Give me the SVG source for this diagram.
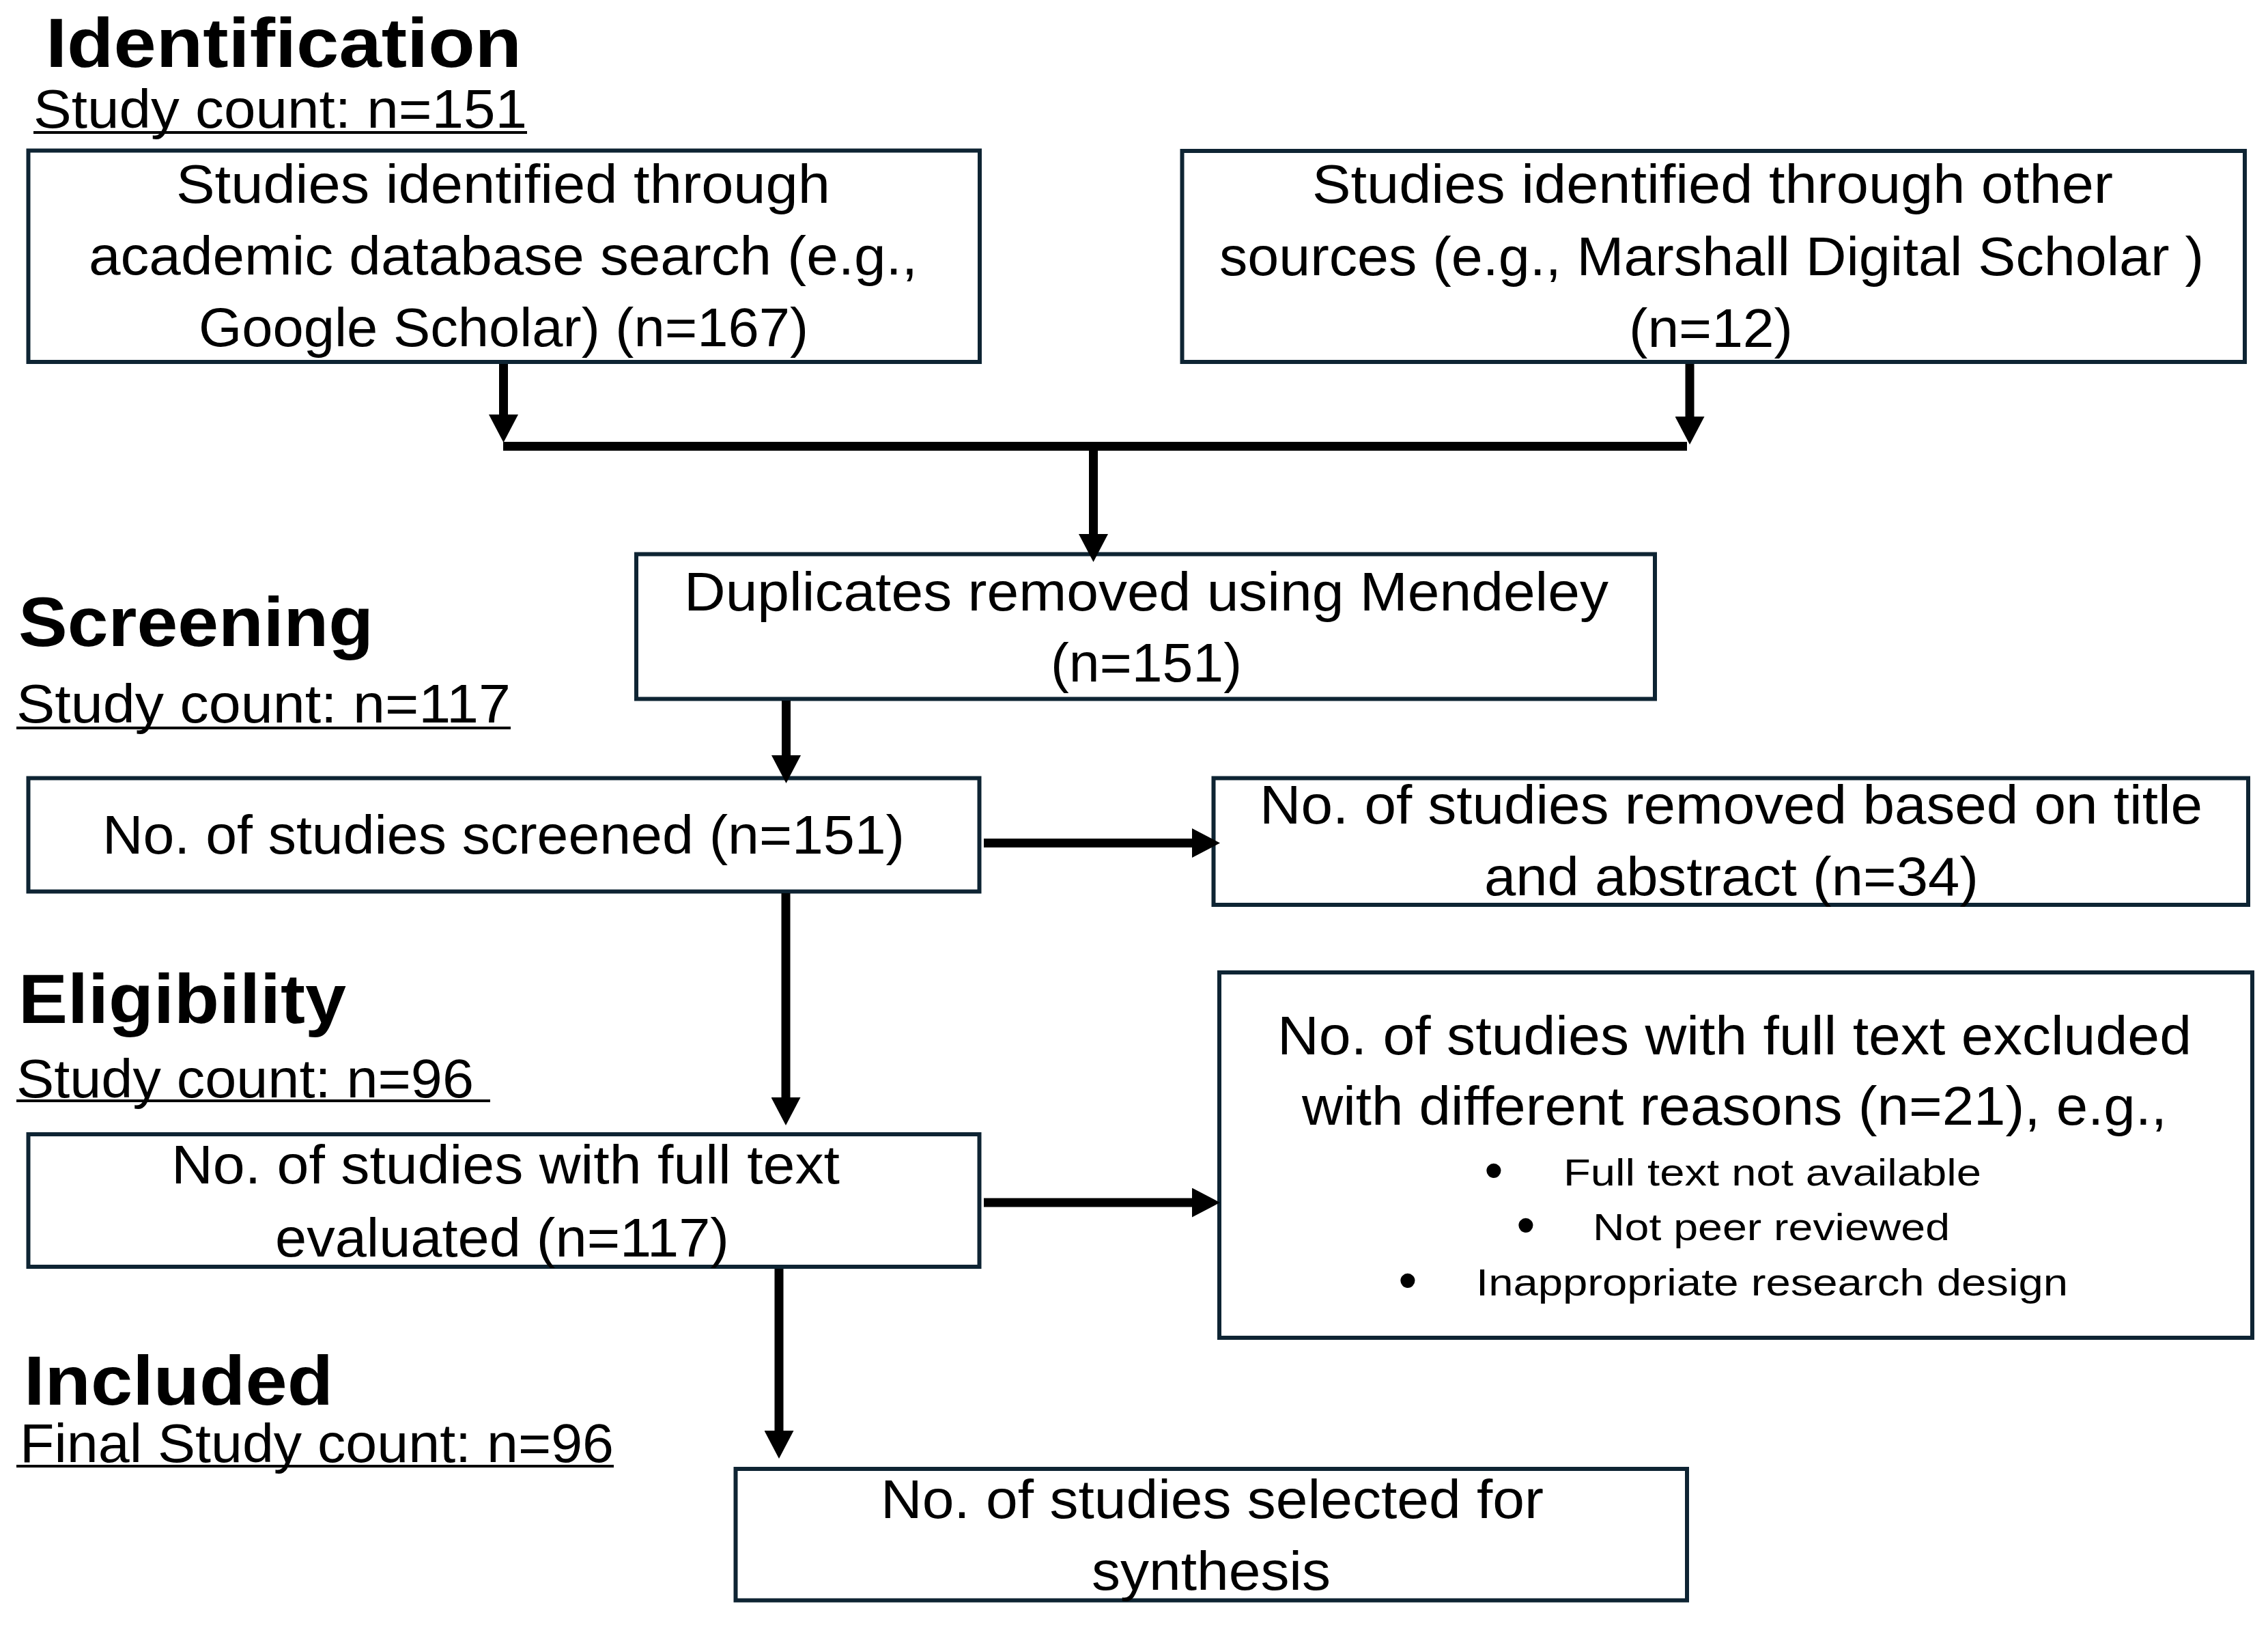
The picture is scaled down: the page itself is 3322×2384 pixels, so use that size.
<svg xmlns="http://www.w3.org/2000/svg" width="3322" height="2384" viewBox="0 0 3322 2384">
<style>
.box{fill:#ffffff;stroke:#0e2433;stroke-width:6}
.t{font-family:"Liberation Sans",Arial,sans-serif;font-size:80px;fill:#000000}
.b{font-family:"Liberation Sans",Arial,sans-serif;font-size:55px;fill:#000000}
.dot{font-family:"Liberation Sans",Arial,sans-serif;font-size:78px;fill:#000000}
.h{font-family:"Liberation Sans",Arial,sans-serif;font-size:102px;font-weight:bold;fill:#000000}
.ul{stroke:#000000;stroke-width:4}
.c{stroke:#000000;stroke-width:13;fill:none}
</style>
<defs>
<marker id="ah" viewBox="0 0 41 43" refX="1" refY="21.5" markerWidth="41" markerHeight="43" markerUnits="userSpaceOnUse" orient="auto">
<path d="M0,0 L41,21.5 L0,43 z" fill="#000000"/>
</marker>
</defs>
<rect width="3322" height="2384" fill="#ffffff"/>

<g id="labels">
<text class="h" x="67" y="98" textLength="697" lengthAdjust="spacingAndGlyphs">Identification</text>
<text class="t" x="49" y="187" textLength="723" lengthAdjust="spacingAndGlyphs">Study count: n=151</text>
<line class="ul" x1="49" y1="194" x2="772" y2="194"/>
<text class="h" x="27" y="946" textLength="520" lengthAdjust="spacingAndGlyphs">Screening</text>
<text class="t" x="24" y="1058" textLength="724" lengthAdjust="spacingAndGlyphs">Study count: n=117</text>
<line class="ul" x1="24" y1="1066" x2="748" y2="1066"/>
<text class="h" x="27" y="1498" textLength="480" lengthAdjust="spacingAndGlyphs">Eligibility</text>
<text class="t" x="24" y="1607" textLength="670" lengthAdjust="spacingAndGlyphs">Study count: n=96</text>
<line class="ul" x1="24" y1="1612" x2="718" y2="1612"/>
<text class="h" x="35" y="2057" textLength="453" lengthAdjust="spacingAndGlyphs">Included</text>
<text class="t" x="29" y="2141" textLength="870" lengthAdjust="spacingAndGlyphs">Final Study count: n=96</text>
<line class="ul" x1="24" y1="2147" x2="899" y2="2147"/>
</g>

<g id="node-db">
<rect class="box" x="41.5" y="220.5" width="1393.5" height="309.5"/>
<text class="t" x="258" y="297" textLength="958" lengthAdjust="spacingAndGlyphs">Studies identified through</text>
<text class="t" x="130" y="402" textLength="1214" lengthAdjust="spacingAndGlyphs">academic database search (e.g.,</text>
<text class="t" x="291" y="507" textLength="893" lengthAdjust="spacingAndGlyphs">Google Scholar) (n=167)</text>
</g>

<g id="node-other">
<rect class="box" x="1731.5" y="221" width="1556.5" height="309"/>
<text class="t" x="1922" y="297" textLength="1173" lengthAdjust="spacingAndGlyphs">Studies identified through other</text>
<text class="t" x="1786" y="403" textLength="1442" lengthAdjust="spacingAndGlyphs">sources (e.g., Marshall Digital Scholar )</text>
<text class="t" x="2386" y="508" textLength="240" lengthAdjust="spacingAndGlyphs">(n=12)</text>
</g>

<g id="node-dup">
<rect class="box" x="932" y="811.5" width="1492" height="212"/>
<text class="t" x="1002" y="894" textLength="1354" lengthAdjust="spacingAndGlyphs">Duplicates removed using Mendeley</text>
<text class="t" x="1539" y="998" textLength="280" lengthAdjust="spacingAndGlyphs">(n=151)</text>
</g>

<g id="node-screened">
<rect class="box" x="41.5" y="1139.5" width="1393" height="166"/>
<text class="t" x="150" y="1250" textLength="1175" lengthAdjust="spacingAndGlyphs">No. of studies screened (n=151)</text>
</g>

<g id="node-removed">
<rect class="box" x="1777.5" y="1139.5" width="1515.5" height="185.5"/>
<text class="t" x="1845" y="1206" textLength="1381" lengthAdjust="spacingAndGlyphs">No. of studies removed based on title</text>
<text class="t" x="2174" y="1311" textLength="724" lengthAdjust="spacingAndGlyphs">and abstract (n=34)</text>
</g>

<g id="node-eval">
<rect class="box" x="41.5" y="1661" width="1393" height="194"/>
<text class="t" x="251" y="1733" textLength="979" lengthAdjust="spacingAndGlyphs">No. of studies with full text</text>
<text class="t" x="403" y="1840" textLength="665" lengthAdjust="spacingAndGlyphs">evaluated (n=117)</text>
</g>

<g id="node-excluded">
<rect class="box" x="1786" y="1424" width="1513" height="535"/>
<text class="t" x="1871" y="1544" textLength="1339" lengthAdjust="spacingAndGlyphs">No. of studies with full text excluded</text>
<text class="t" x="1907" y="1647" textLength="1267" lengthAdjust="spacingAndGlyphs">with different reasons (n=21), e.g.,</text>
<text class="dot" x="2188" y="1740" text-anchor="middle">•</text>
<text class="b" x="2290" y="1736" textLength="612" lengthAdjust="spacingAndGlyphs">Full text not available</text>
<text class="dot" x="2235" y="1820" text-anchor="middle">•</text>
<text class="b" x="2333" y="1816" textLength="523" lengthAdjust="spacingAndGlyphs">Not peer reviewed</text>
<text class="dot" x="2062" y="1901" text-anchor="middle">•</text>
<text class="b" x="2162" y="1897" textLength="867" lengthAdjust="spacingAndGlyphs">Inappropriate research design</text>
</g>

<g id="node-final">
<rect class="box" x="1077.5" y="2151" width="1393.5" height="192.5"/>
<text class="t" x="1290" y="2223" textLength="971" lengthAdjust="spacingAndGlyphs">No. of studies selected for</text>
<text class="t" x="1599" y="2328" textLength="350" lengthAdjust="spacingAndGlyphs">synthesis</text>
</g>

<g id="connectors">
<line class="c" x1="737" y1="653.5" x2="2471" y2="653.5"/>
<line class="c" x1="737.5" y1="533" x2="737.5" y2="608" marker-end="url(#ah)"/>
<line class="c" x1="2475" y1="533" x2="2475" y2="611" marker-end="url(#ah)"/>
<line class="c" x1="1601.5" y1="660" x2="1601.5" y2="783" marker-end="url(#ah)"/>
<line class="c" x1="1151.5" y1="1026" x2="1151.5" y2="1107" marker-end="url(#ah)"/>
<line class="c" x1="1441" y1="1234.5" x2="1747" y2="1234.5" marker-end="url(#ah)"/>
<line class="c" x1="1151" y1="1308" x2="1151" y2="1608" marker-end="url(#ah)"/>
<line class="c" x1="1441" y1="1761" x2="1747" y2="1761" marker-end="url(#ah)"/>
<line class="c" x1="1141" y1="1858" x2="1141" y2="2096" marker-end="url(#ah)"/>
</g>
</svg>
